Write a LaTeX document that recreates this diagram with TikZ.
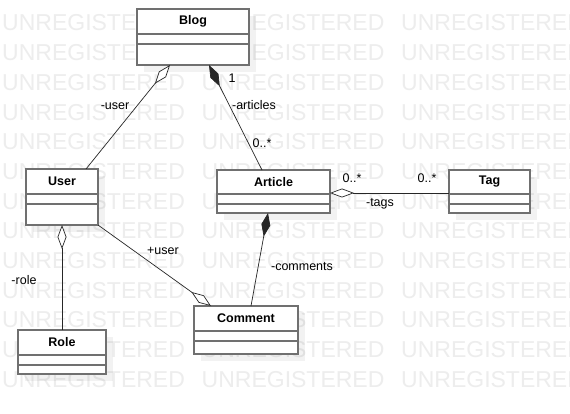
\documentclass[tikz,border=0pt]{standalone}
\usepackage{fontspec}
\setmainfont{Liberation Sans}
\usetikzlibrary{arrows.meta,calc}
\newcommand{\umlcls}[8]{%
  \fill[black, opacity=0.05] ({#3+7},{#4+7}) rectangle ({#5+7},{#6+7});
  \node[classbox, minimum width={#5-#3}, minimum height={#6-#4}] (#1) at ({(#3+#5)/2},{(#4+#6)/2}) {};
  \node[cname] (#1-t) at ({(#3+#5)/2},{(#4+#7)/2}) {#2};
  \draw[sepline] (#3,#7) -- (#5,#7);
  \draw[sepline] (#3,#8) -- (#5,#8);
}
\begin{document}
\begin{tikzpicture}[x=1pt,y=-1pt,
  classbox/.style={draw=black!56, line width=1.6pt, fill=white, inner sep=0pt, outer sep=0pt},
  sepline/.style={draw=black!56, line width=1.6pt},
  wm/.style={text=black!7, font=\fontsize{23}{23}\selectfont, anchor=west, inner sep=0pt},
  conn/.style={draw=black!85, line width=0.7pt},
  lbl/.style={font=\fontsize{12.5}{15}\selectfont, inner sep=0pt},
  cname/.style={font=\bfseries\fontsize{12.5}{15}\selectfont, inner sep=0pt},
  agg/.style={-{Diamond[open,fill=white,length=24pt,width=9pt]}},
  comp/.style={-{Diamond[length=24pt,width=9pt]}},
]
\useasboundingbox (0,0) rectangle (570,414);
\fill[white] (0,0) rectangle (570,414);
% watermark
\foreach \k in {0,...,12}{
  \foreach \j in {0,1,2}{
    \node[wm] (wm-\k-\j) at ({2+199.5*\j},{23+29.7*\k}) {UNREGISTERED};
  }
}
% classes
\umlcls{blog}{Blog}{137}{9}{249}{65}{34}{44}
\umlcls{user}{User}{26}{169}{98}{225}{194}{204}
\umlcls{article}{Article}{217}{170}{330}{213}{194}{204}
\umlcls{tag}{Tag}{449}{170}{530}{213}{194}{204}
\umlcls{comment}{Comment}{194}{306}{298}{354}{331}{341}
\umlcls{role}{Role}{18}{330}{106}{374}{355}{365}
% connectors
\draw[conn, agg] ([xshift=60pt]user.north west) -- ([xshift=33pt]blog.south west);
\draw[conn, comp] ([xshift=45pt]article.north west) -- ([xshift=72pt]blog.south west);
\draw[conn, agg] ([yshift=-1.5pt]tag.west) -- ([yshift=-1.5pt]article.east);
\draw[conn, comp] ([xshift=57pt]comment.north west) -- ([xshift=51pt]article.south west);
\draw[conn, agg] (user.south east) -- ([xshift=17pt]comment.north west);
\draw[conn, agg] (role.north) -- (user.south);
% labels
\node[lbl] (l-user) at (115,106) {-user};
\node[lbl] (l-one) at (232,78) {1};
\node[lbl] (l-articles) at (254,105) {-articles};
\node[lbl] (l-many) at (262,143) {0..*};
\node[lbl] (l-tagsa) at (352,178) {0..*};
\node[lbl] (l-tagsb) at (427,178) {0..*};
\node[lbl] (l-tags) at (380,204) {-tags};
\node[lbl] (l-comments) at (302,267) {-comments};
\node[lbl] (l-puser) at (163,251) {+user};
\node[lbl] (l-role) at (24,280) {-role};
\end{tikzpicture}
\end{document}
